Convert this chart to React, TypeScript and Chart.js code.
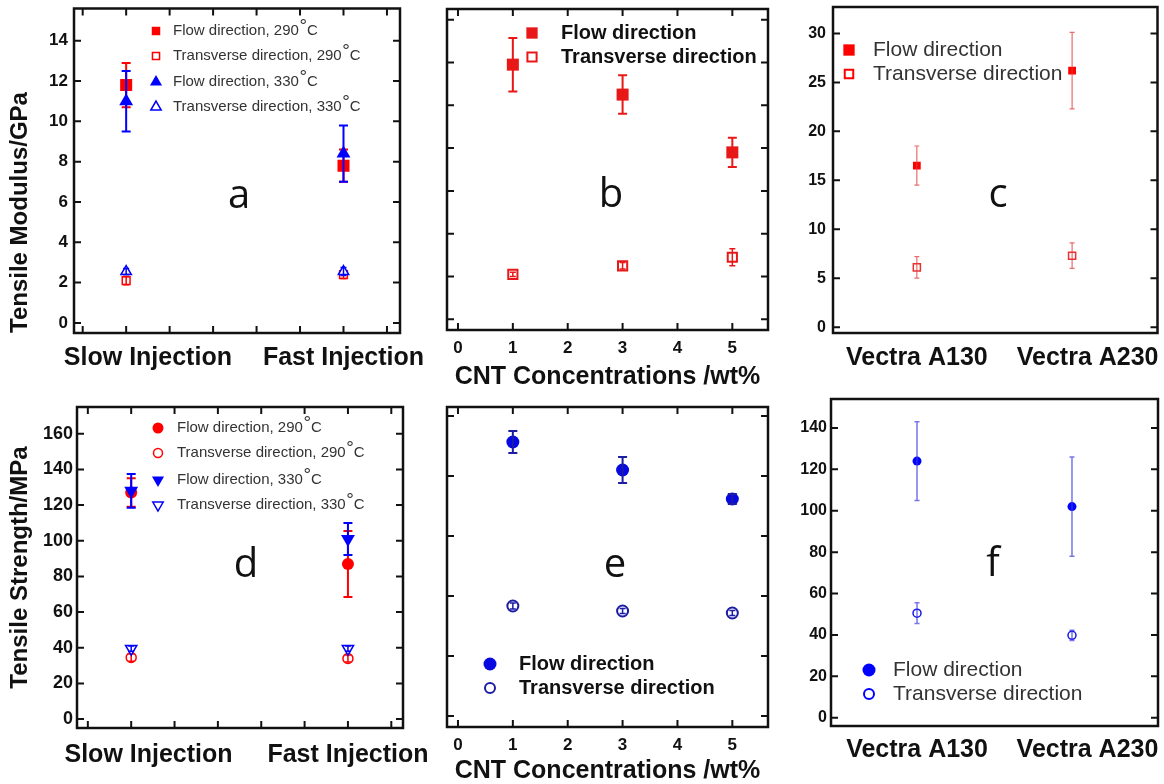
import { useEffect, useRef } from 'react';
import { Chart, registerables } from 'chart.js';

Chart.register(...registerables);

// ===================== DATA =====================
// Panel a – tensile modulus (GPa) vs injection speed
const injPositions = [1, 6];
const injLabels = ['Slow Injection', 'Fast Injection'];
const injTickMarks = [0, 1, 2, 3, 4, 5, 6, 7];
const modTicksA = [0, 2, 4, 6, 8, 10, 12, 14];
const modFlow290 = [11.8, 7.8];
const modFlow290Err = [1.1, 0.8];
const modTrans290 = [2.1, 2.4];
const modTrans290Err = [0.2, 0.2];
const modFlow330 = [11.0, 8.4];
const modFlow330Err = [1.5, 1.4];
const modTrans330 = [2.55, 2.55];
const modTrans330Err = [0.15, 0.2];
const legendTemp = [
  'Flow direction, 290°C',
  'Transverse direction, 290°C',
  'Flow direction, 330°C',
  'Transverse direction, 330°C',
];

// Panel b – tensile modulus vs CNT concentration
const cntPositions = [1, 3, 5];
const cntTicks = [0, 1, 2, 3, 4, 5];
const cntTickLabels = ['0', '1', '2', '3', '4', '5'];
const modTicksB = [0, 2, 4, 6, 8, 10, 12, 14];
const cntModFlow = [11.9, 10.5, 7.8];
const cntModFlowErr = [1.25, 0.9, 0.68];
const cntModTrans = [2.1, 2.5, 2.9];
const cntModTransErr = [0.1, 0.15, 0.4];
const legendDir = ['Flow direction', 'Transverse direction'];

// Panel c – tensile modulus, Vectra grades
const vecPositions = [1, 2];
const vecLabels = ['Vectra A130', 'Vectra A230'];
const modTicksC = [0, 5, 10, 15, 20, 25, 30];
const vecModFlow = [16.5, 26.2];
const vecModFlowErr = [2.0, 3.9];
const vecModTrans = [6.1, 7.3];
const vecModTransErr = [1.1, 1.3];

// Panel d – tensile strength (MPa) vs injection speed
const strTicksD = [0, 20, 40, 60, 80, 100, 120, 140, 160];
const strFlow290 = [127, 87];
const strFlow290Err = [8, 18.5];
const strTrans290 = [34.5, 34];
const strTrans290Err = [2, 2];
const strFlow330 = [128, 101];
const strFlow330Err = [9.5, 9];
const strTrans330 = [39.5, 39.5];
const strTrans330Err = [1.5, 1.5];

// Panel e – tensile strength vs CNT concentration
const strTicksE = [0, 30, 60, 90, 120, 150];
const cntStrFlow = [137, 123, 108.5];
const cntStrFlowErr = [5.5, 6.5, 2.5];
const cntStrTrans = [55, 52.5, 51.5];
const cntStrTransErr = [1.5, 1.2, 1.2];

// Panel f – tensile strength, Vectra grades
const strTicksF = [0, 20, 40, 60, 80, 100, 120, 140];
const vecStrFlow = [124, 102];
const vecStrFlowErr = [19, 24];
const vecStrTrans = [50.5, 39.8];
const vecStrTransErr = [5, 2.5];

// ===================== STYLE HELPERS =====================
const FAM = '"Liberation Sans", Arial, Helvetica, sans-serif';
const LETTER_FAM = '"Open Sans", "Noto Sans", sans-serif';
const RED = '#ff0000';
const BLUE = '#0000ff';

type Marker = {
  style: 'rect' | 'circle' | 'triangle';
  rot?: number;
  r: number;
  filled: boolean;
  color: string;
  lw?: number;
};
type ErrStyle = { color: string; width: number; cap: number };

function series(xs: number[], ys: number[], errs: number[], m: Marker, e: ErrStyle) {
  return {
    data: xs.map((x, i) => ({ x, y: ys[i] })),
    errors: errs,
    errStyle: e,
    showLine: false,
    pointStyle: m.style,
    pointRotation: m.rot ?? 0,
    pointRadius: m.r,
    pointHoverRadius: m.r,
    pointBackgroundColor: m.filled ? m.color : '#ffffff',
    pointBorderColor: m.color,
    pointBorderWidth: m.filled ? 0 : m.lw ?? 1.5,
    pointHoverBorderWidth: m.filled ? 0 : m.lw ?? 1.5,
    backgroundColor: m.color,
    borderColor: m.color,
  };
}

function drawMarker(ctx: CanvasRenderingContext2D, m: Marker, x: number, y: number) {
  ctx.save();
  ctx.beginPath();
  const r = m.r;
  if (m.style === 'rect') {
    const h = r * Math.SQRT1_2;
    ctx.rect(x - h, y - h, 2 * h, 2 * h);
  } else if (m.style === 'circle') {
    ctx.arc(x, y, r, 0, Math.PI * 2);
  } else {
    let a = ((m.rot || 0) * Math.PI) / 180;
    for (let k = 0; k < 3; k++) {
      const px = x + Math.sin(a) * r;
      const py = y - Math.cos(a) * r;
      if (k === 0) ctx.moveTo(px, py);
      else ctx.lineTo(px, py);
      a += (2 * Math.PI) / 3;
    }
    ctx.closePath();
  }
  ctx.fillStyle = m.filled ? m.color : '#ffffff';
  ctx.fill();
  if (!m.filled) {
    ctx.lineWidth = m.lw ?? 1.5;
    ctx.strokeStyle = m.color;
    ctx.stroke();
  }
  ctx.restore();
}

function drawLegendText(ctx: CanvasRenderingContext2D, text: string, x: number, y: number, size: number, font: string) {
  const idx = text.indexOf('°');
  if (idx < 0) {
    ctx.fillText(text, x, y);
    return;
  }
  const pre = text.slice(0, idx);
  const post = text.slice(idx + 1);
  ctx.fillText(pre, x, y);
  let cx = x + ctx.measureText(pre).width + 0.5;
  ctx.font = `${Math.round(size * 1.25)}px ${FAM}`;
  ctx.fillText('°', cx, y - size * 0.25);
  cx += ctx.measureText('°').width;
  ctx.font = font;
  ctx.fillText(post, cx, y);
}

interface Spec {
  w: number;
  h: number;
  area: { l: number; r: number; t: number; b: number };
  x: {
    min: number;
    max: number;
    labelPos: number[];
    labels: string[];
    size: number;
    pad: number;
    marks: number[] | null;
    title?: { text: string; size: number; pb: number };
  };
  y: {
    min: number;
    max: number;
    ticks: number[];
    showLabels: boolean;
    size: number;
    pad: number;
    title?: { text: string; size: number; align: 'start' | 'center' };
  };
  datasets: any[];
  legend: {
    mx: number;
    tx: number;
    ys: number[];
    size: number;
    bold: boolean;
    color: string;
    items: { m: Marker; text: string }[];
  };
  letter: { text: string; x: number; y: number };
}

const errorBarPlugin = {
  id: 'errorBars',
  afterDatasetDraw(chart: any, args: any) {
    const ds = chart.data.datasets[args.index];
    if (!ds || !ds.errors) return;
    const ys = chart.scales.y;
    const ctx: CanvasRenderingContext2D = chart.ctx;
    const st: ErrStyle = ds.errStyle;
    ctx.save();
    ctx.strokeStyle = st.color;
    ctx.lineWidth = st.width;
    args.meta.data.forEach((pt: any, i: number) => {
      const v = ds.data[i].y;
      const e = ds.errors[i];
      const yTop = ys.getPixelForValue(v + e);
      const yBot = ys.getPixelForValue(v - e);
      const x = pt.x;
      const c = st.cap / 2;
      ctx.beginPath();
      ctx.moveTo(x, yTop);
      ctx.lineTo(x, yBot);
      ctx.moveTo(x - c, yTop);
      ctx.lineTo(x + c, yTop);
      ctx.moveTo(x - c, yBot);
      ctx.lineTo(x + c, yBot);
      ctx.stroke();
    });
    ctx.restore();
  },
};

function framePlugin(s: Spec) {
  return {
    id: 'frame',
    afterDatasetsDraw(chart: any) {
      const ctx: CanvasRenderingContext2D = chart.ctx;
      const a = chart.chartArea;
      const tl = 7;
      ctx.save();
      ctx.strokeStyle = '#111';
      ctx.lineWidth = 2;
      ctx.beginPath();
      s.y.ticks.forEach((v) => {
        const y = chart.scales.y.getPixelForValue(v);
        ctx.moveTo(a.left, y);
        ctx.lineTo(a.left + tl, y);
        ctx.moveTo(a.right, y);
        ctx.lineTo(a.right - tl, y);
      });
      (s.x.marks || []).forEach((v) => {
        const x = chart.scales.x.getPixelForValue(v);
        ctx.moveTo(x, a.bottom);
        ctx.lineTo(x, a.bottom - tl);
        ctx.moveTo(x, a.top);
        ctx.lineTo(x, a.top + tl);
      });
      ctx.stroke();
      ctx.lineWidth = 2.5;
      ctx.strokeRect(a.left, a.top, a.right - a.left, a.bottom - a.top);
      ctx.restore();
    },
  };
}

function decorPlugin(s: Spec) {
  return {
    id: 'decor',
    afterDraw(chart: any) {
      const ctx: CanvasRenderingContext2D = chart.ctx;
      const L = s.legend;
      const font = `${L.bold ? 'bold ' : ''}${L.size}px ${FAM}`;
      ctx.save();
      ctx.textBaseline = 'middle';
      ctx.textAlign = 'left';
      L.items.forEach((it, i) => {
        drawMarker(ctx, it.m, L.mx, L.ys[i]);
        ctx.font = font;
        ctx.fillStyle = L.color;
        drawLegendText(ctx, it.text, L.tx, L.ys[i], L.size, font);
      });
      ctx.font = `40px ${LETTER_FAM}`;
      ctx.fillStyle = '#111';
      ctx.textAlign = 'center';
      ctx.textBaseline = 'alphabetic';
      ctx.fillText(s.letter.text, s.letter.x, s.letter.y);
      ctx.restore();
    },
  };
}

function buildConfig(s: Spec): any {
  return {
    type: 'scatter',
    data: { datasets: s.datasets },
    options: {
      responsive: false,
      animation: false,
      events: [],
      layout: { padding: { left: 0, top: s.area.t, right: s.w - s.area.r, bottom: 0 } },
      plugins: { legend: { display: false }, tooltip: { enabled: false } },
      scales: {
        x: {
          type: 'linear',
          min: s.x.min,
          max: s.x.max,
          grid: { display: false, drawTicks: false },
          border: { display: false },
          afterBuildTicks: (sc: any) => {
            sc.ticks = s.x.labelPos.map((v) => ({ value: v }));
          },
          afterFit: (sc: any) => {
            sc.height = s.h - s.area.b;
            sc.paddingLeft = 0;
            sc.paddingRight = 0;
          },
          ticks: {
            autoSkip: false,
            maxRotation: 0,
            minRotation: 0,
            padding: s.x.pad,
            color: '#111',
            font: { family: FAM, size: s.x.size, weight: 'bold' },
            callback: (_v: any, i: number) => s.x.labels[i],
          },
          title: s.x.title
            ? {
                display: true,
                text: s.x.title.text,
                color: '#111',
                font: { family: FAM, size: s.x.title.size, weight: 'bold', lineHeight: 1 },
                padding: { top: 0, bottom: s.x.title.pb },
              }
            : { display: false },
        },
        y: {
          type: 'linear',
          min: s.y.min,
          max: s.y.max,
          grid: { display: false, drawTicks: false },
          border: { display: false },
          afterBuildTicks: (sc: any) => {
            sc.ticks = s.y.ticks.map((v) => ({ value: v }));
          },
          afterFit: (sc: any) => {
            sc.width = s.area.l;
            sc.paddingTop = 0;
            sc.paddingBottom = 0;
          },
          ticks: {
            display: s.y.showLabels,
            padding: s.y.pad,
            color: '#111',
            font: { family: FAM, size: s.y.size, weight: 'bold' },
          },
          title: s.y.title
            ? {
                display: true,
                text: s.y.title.text,
                align: s.y.title.align,
                color: '#111',
                font: { family: FAM, size: s.y.title.size, weight: 'bold' },
                padding: { top: 6, bottom: 0 },
              }
            : { display: false },
        },
      },
    },
    plugins: [errorBarPlugin, framePlugin(s), decorPlugin(s)],
  };
}

// ===================== MARKERS =====================
const mA = {
  flow290: { style: 'rect', r: 8.5, filled: true, color: RED } as Marker,
  trans290: { style: 'rect', r: 5.5, filled: false, color: RED, lw: 1.5 } as Marker,
  flow330: { style: 'triangle', r: 8, filled: true, color: BLUE } as Marker,
  trans330: { style: 'triangle', r: 6, filled: false, color: BLUE, lw: 1.5 } as Marker,
};
const mD = {
  flow290: { style: 'circle', r: 6, filled: true, color: RED } as Marker,
  trans290: { style: 'circle', r: 5, filled: false, color: RED, lw: 1.5 } as Marker,
  flow330: { style: 'triangle', rot: 180, r: 8, filled: true, color: BLUE } as Marker,
  trans330: { style: 'triangle', rot: 180, r: 6.5, filled: false, color: BLUE, lw: 1.5 } as Marker,
};
const errBlue: ErrStyle = { color: BLUE, width: 2, cap: 9 };
const errBlueS: ErrStyle = { color: BLUE, width: 1.5, cap: 6 };
const errRed: ErrStyle = { color: RED, width: 2, cap: 9 };
const errRedS: ErrStyle = { color: RED, width: 1.5, cap: 6 };

// ===================== PANEL SPECS =====================
const specA: Spec = {
  w: 440,
  h: 392,
  area: { l: 74, r: 400, t: 8, b: 333 },
  x: { min: -0.2, max: 7.3, labelPos: [1.5, 6], labels: injLabels, size: 25, pad: 10, marks: injTickMarks },
  y: {
    min: -0.5,
    max: 15.6,
    ticks: modTicksA,
    showLabels: true,
    size: 17,
    pad: 6,
    title: { text: 'Tensile Modulus/GPa', size: 24, align: 'start' },
  },
  datasets: [
    series(injPositions, modFlow330, modFlow330Err, mA.flow330, errBlue),
    series(injPositions, modTrans330, modTrans330Err, mA.trans330, errBlueS),
    series(injPositions, modFlow290, modFlow290Err, mA.flow290, errRed),
    series(injPositions, modTrans290, modTrans290Err, mA.trans290, errRedS),
  ],
  legend: {
    mx: 156,
    tx: 173,
    ys: [31, 56, 82, 107],
    size: 15,
    bold: false,
    color: '#333',
    items: [
      { m: { style: 'rect', r: 6, filled: true, color: RED }, text: legendTemp[0] },
      { m: { style: 'rect', r: 5, filled: false, color: RED, lw: 1.5 }, text: legendTemp[1] },
      { m: { style: 'triangle', r: 7, filled: true, color: BLUE }, text: legendTemp[2] },
      { m: { style: 'triangle', r: 6, filled: false, color: BLUE, lw: 1.5 }, text: legendTemp[3] },
    ],
  },
  letter: { text: 'a', x: 239, y: 208 },
};

const RED_B = '#e81818';
const specB: Spec = {
  w: 370,
  h: 392,
  area: { l: 27, r: 348, t: 9, b: 330 },
  x: {
    min: -0.2,
    max: 5.65,
    labelPos: cntTicks,
    labels: cntTickLabels,
    size: 17,
    pad: 8,
    marks: cntTicks,
    title: { text: 'CNT Concentrations /wt%', size: 25, pb: 2 },
  },
  y: { min: -0.5, max: 14.5, ticks: modTicksB, showLabels: false, size: 17, pad: 6 },
  datasets: [
    series(cntPositions, cntModFlow, cntModFlowErr, { style: 'rect', r: 8.5, filled: true, color: RED_B }, { color: RED_B, width: 2, cap: 9 }),
    series(cntPositions, cntModTrans, cntModTransErr, { style: 'rect', r: 6.5, filled: false, color: RED_B, lw: 2 }, { color: RED_B, width: 1.5, cap: 6 }),
  ],
  legend: {
    mx: 112,
    tx: 141,
    ys: [33, 57],
    size: 20,
    bold: true,
    color: '#111',
    items: [
      { m: { style: 'rect', r: 8, filled: true, color: RED_B }, text: legendDir[0] },
      { m: { style: 'rect', r: 6.5, filled: false, color: RED_B, lw: 2 }, text: legendDir[1] },
    ],
  },
  letter: { text: 'b', x: 191, y: 207 },
};

const errRedThin: ErrStyle = { color: 'rgba(225,60,60,0.75)', width: 1.2, cap: 5 };
const specC: Spec = {
  w: 374,
  h: 392,
  area: { l: 43, r: 368, t: 7, b: 333 },
  x: { min: 0.46, max: 2.55, labelPos: [1, 2.1], labels: vecLabels, size: 25, pad: 10, marks: null },
  y: { min: -0.6, max: 32.7, ticks: modTicksC, showLabels: true, size: 16, pad: 7 },
  datasets: [
    series(vecPositions, vecModFlow, vecModFlowErr, { style: 'rect', r: 5.5, filled: true, color: RED }, errRedThin),
    series(vecPositions, vecModTrans, vecModTransErr, { style: 'rect', r: 5, filled: false, color: '#e83030', lw: 1.5 }, errRedThin),
  ],
  legend: {
    mx: 59,
    tx: 83,
    ys: [50, 74],
    size: 21,
    bold: false,
    color: '#333',
    items: [
      { m: { style: 'rect', r: 8, filled: true, color: RED }, text: legendDir[0] },
      { m: { style: 'rect', r: 6, filled: false, color: RED, lw: 2 }, text: legendDir[1] },
    ],
  },
  letter: { text: 'c', x: 208, y: 207 },
};

const specD: Spec = {
  w: 440,
  h: 392,
  area: { l: 77, r: 403, t: 15, b: 336 },
  x: { min: -0.25, max: 7.27, labelPos: [1.4, 6], labels: injLabels, size: 25, pad: 12, marks: injTickMarks },
  y: {
    min: -5,
    max: 175,
    ticks: strTicksD,
    showLabels: true,
    size: 18,
    pad: 4,
    title: { text: 'Tensile Strength/MPa', size: 24, align: 'center' },
  },
  datasets: [
    series(injPositions, strFlow330, strFlow330Err, mD.flow330, errBlue),
    series(injPositions, strTrans330, strTrans330Err, mD.trans330, errBlueS),
    series(injPositions, strFlow290, strFlow290Err, mD.flow290, errRed),
    series(injPositions, strTrans290, strTrans290Err, mD.trans290, errRedS),
  ],
  legend: {
    mx: 158,
    tx: 177,
    ys: [36, 61, 88, 113],
    size: 15,
    bold: false,
    color: '#333',
    items: [
      { m: { style: 'circle', r: 5.5, filled: true, color: RED }, text: legendTemp[0] },
      { m: { style: 'circle', r: 4.5, filled: false, color: RED, lw: 1.5 }, text: legendTemp[1] },
      { m: { style: 'triangle', rot: 180, r: 7, filled: true, color: BLUE }, text: legendTemp[2] },
      { m: { style: 'triangle', rot: 180, r: 6, filled: false, color: BLUE, lw: 1.5 }, text: legendTemp[3] },
    ],
  },
  letter: { text: 'd', x: 246, y: 185 },
};

const BLUE_E = '#0808e0';
const NAVY = '#1c1ca4';
const specE: Spec = {
  w: 370,
  h: 392,
  area: { l: 27, r: 348, t: 15, b: 335 },
  x: {
    min: -0.2,
    max: 5.65,
    labelPos: cntTicks,
    labels: cntTickLabels,
    size: 17,
    pad: 8,
    marks: cntTicks,
    title: { text: 'CNT Concentrations /wt%', size: 25, pb: 0 },
  },
  y: { min: -5.5, max: 154.5, ticks: strTicksE, showLabels: false, size: 17, pad: 6 },
  datasets: [
    series(cntPositions, cntStrFlow, cntStrFlowErr, { style: 'circle', r: 6.5, filled: true, color: BLUE_E }, { color: NAVY, width: 2, cap: 9 }),
    series(cntPositions, cntStrTrans, cntStrTransErr, { style: 'circle', r: 5.5, filled: false, color: NAVY, lw: 2 }, { color: NAVY, width: 1.5, cap: 6 }),
  ],
  legend: {
    mx: 70,
    tx: 99,
    ys: [272, 296],
    size: 20,
    bold: true,
    color: '#111',
    items: [
      { m: { style: 'circle', r: 6.5, filled: true, color: BLUE_E }, text: legendDir[0] },
      { m: { style: 'circle', r: 5, filled: false, color: NAVY, lw: 2 }, text: legendDir[1] },
    ],
  },
  letter: { text: 'e', x: 195, y: 185 },
};

const errBlueThin: ErrStyle = { color: 'rgba(60,60,225,0.7)', width: 1.5, cap: 5 };
const specF: Spec = {
  w: 374,
  h: 392,
  area: { l: 41, r: 368, t: 7, b: 334 },
  x: { min: 0.445, max: 2.555, labelPos: [1, 2.1], labels: vecLabels, size: 25, pad: 9, marks: null },
  y: { min: -4, max: 154, ticks: strTicksF, showLabels: true, size: 16, pad: 4 },
  datasets: [
    series(vecPositions, vecStrFlow, vecStrFlowErr, { style: 'circle', r: 4.5, filled: true, color: BLUE }, errBlueThin),
    series(vecPositions, vecStrTrans, vecStrTransErr, { style: 'circle', r: 4, filled: false, color: '#1515e8', lw: 1.5 }, errBlueThin),
  ],
  legend: {
    mx: 79,
    tx: 103,
    ys: [278, 302],
    size: 21,
    bold: false,
    color: '#333',
    items: [
      { m: { style: 'circle', r: 6.5, filled: true, color: BLUE }, text: legendDir[0] },
      { m: { style: 'circle', r: 5, filled: false, color: BLUE, lw: 2 }, text: legendDir[1] },
    ],
  },
  letter: { text: 'f', x: 203, y: 184 },
};

// ===================== COMPONENTS =====================
function Panel({ spec, left, top }: { spec: Spec; left: number; top: number }) {
  const ref = useRef<HTMLCanvasElement>(null);
  useEffect(() => {
    const chart = new Chart(ref.current as HTMLCanvasElement, buildConfig(spec));
    return () => chart.destroy();
  }, [spec]);
  return (
    <canvas
      ref={ref}
      width={spec.w}
      height={spec.h}
      style={{ position: 'absolute', left, top, width: spec.w, height: spec.h, display: 'block' }}
    />
  );
}

export default function App() {
  return (
    <div
      style={{
        position: 'fixed',
        left: 0,
        top: 0,
        width: 1164,
        height: 784,
        background: '#ffffff',
        overflow: 'hidden',
      }}
    >
      <Panel spec={specA} left={0} top={0} />
      <Panel spec={specB} left={420} top={0} />
      <Panel spec={specC} left={790} top={0} />
      <Panel spec={specD} left={0} top={392} />
      <Panel spec={specE} left={420} top={392} />
      <Panel spec={specF} left={790} top={392} />
    </div>
  );
}
